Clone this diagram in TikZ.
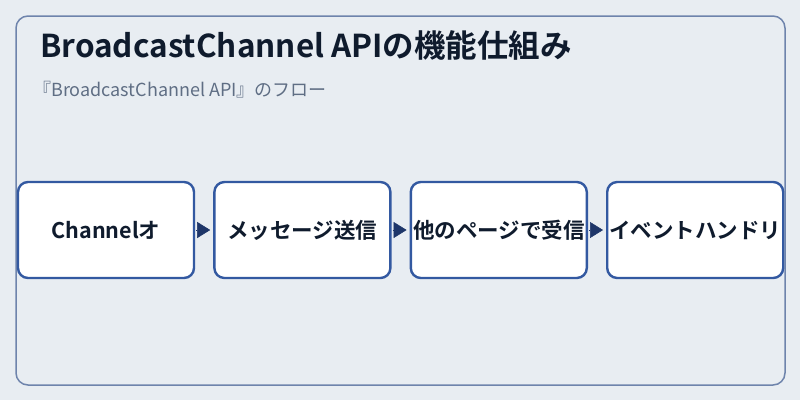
\documentclass[tikz,border=0pt]{standalone}
\usepackage{fontspec}
\usepackage{xcolor}
\usetikzlibrary{arrows.meta, positioning}
\newfontfamily\jpbold{Noto Sans CJK JP Bold}
\newfontfamily\jpfont{Noto Sans CJK JP}
\definecolor{bgpanel}{HTML}{E8EDF2}
\definecolor{framecol}{HTML}{6E84AC}
\definecolor{boxline}{HTML}{3359A1}
\definecolor{titlecol}{HTML}{0F1B2D}
\definecolor{subcol}{HTML}{5F6E84}
\definecolor{arrowcol}{HTML}{1E3669}

\begin{document}
\begin{tikzpicture}[
    x=1pt, y=-1pt,
    node distance=18pt,
    stepbox/.style={rectangle, draw=boxline, line width=2.4pt,
      rounded corners=10pt, fill=white,
      minimum width=176pt, minimum height=96pt, inner sep=0pt,
      font=\jpbold\fontsize{21.5pt}{25pt}\selectfont, text=titlecol},
    flow/.style={-{Triangle[length=13pt, width=16pt]}, arrowcol,
      line width=0.5pt, shorten <=1pt, shorten >=3pt},
]

% ── Background and frame ──
\fill[bgpanel] (0,0) rectangle (800,400);
\useasboundingbox (0,0) rectangle (800,400);
\draw[framecol, line width=1.5pt, rounded corners=12pt]
  (16,16) rectangle (785,385);

% ── Heading ──
\node[anchor=base west, inner sep=0pt, text=titlecol,
  font=\jpbold\fontsize{31.5pt}{36pt}\selectfont] (title)
  at (40,57) {BroadcastChannel APIの機能仕組み};
\node[anchor=base west, inner sep=0pt, text=subcol,
  font=\jpfont\fontsize{18pt}{21pt}\selectfont] (subtitle)
  at (33,96) {『BroadcastChannel API』のフロー};

% ── Flow steps ──
\node[stepbox] (s1) at (106,230) {Channelオ};
\node[stepbox, right=of s1] (s2) {メッセージ送信};
\node[stepbox, right=of s2] (s3) {他のページで受信};
\node[stepbox, right=of s3] (s4) {イベントハンドリ};

% ── Arrows ──
\draw[flow] (s1) -- (s2);
\draw[flow] (s2) -- (s3);
\draw[flow] (s3) -- (s4);

\end{tikzpicture}
\end{document}
